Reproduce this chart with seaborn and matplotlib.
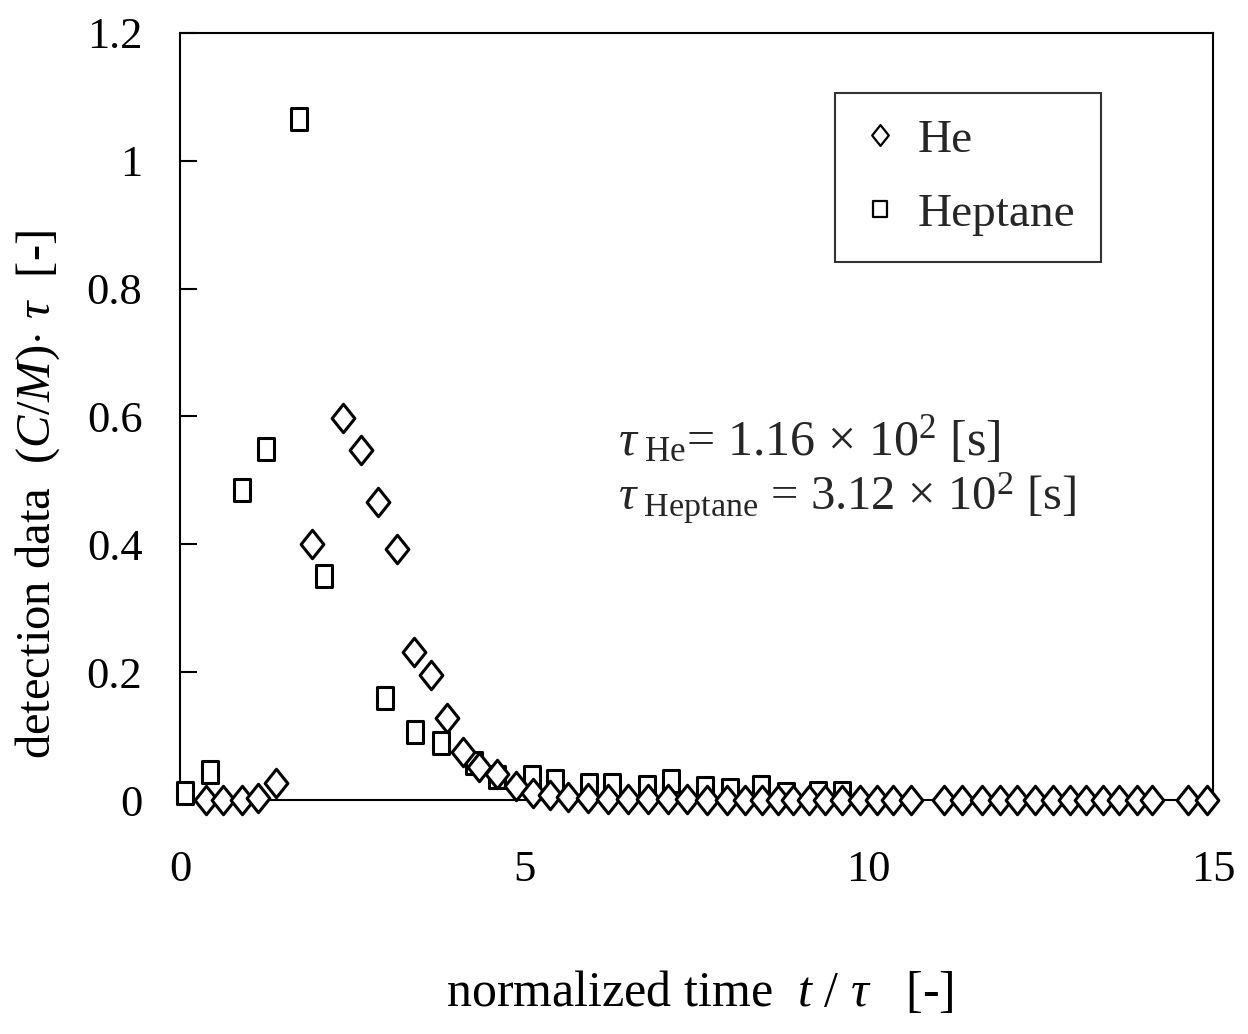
import numpy as np
import pandas as pd
import matplotlib
matplotlib.use("Agg")
import matplotlib.pyplot as plt
from matplotlib.path import Path
from matplotlib.lines import Line2D
import seaborn as sns

# ---------------- data ----------------
he_x = [0.38, 0.62, 0.90, 1.13, 1.39, 1.92, 2.37, 2.63, 2.87, 3.15, 3.40, 3.64,
        3.88, 4.11, 4.34, 4.60, 4.88, 5.12, 5.37, 5.63, 5.92, 6.21, 6.50, 6.79,
        7.08, 7.36, 7.65, 7.94, 8.20, 8.45, 8.68, 8.90, 9.13, 9.36, 9.61, 9.87,
        10.12, 10.36, 10.62, 11.10, 11.36, 11.64, 11.90, 12.15, 12.41, 12.67,
        12.92, 13.15, 13.40, 13.64, 13.89, 14.12, 14.64, 14.91]
he_y = [0.0, 0.0, 0.0, 0.003, 0.027, 0.400, 0.597, 0.547, 0.466, 0.392, 0.231,
        0.196, 0.128, 0.075, 0.052, 0.040, 0.022, 0.011, 0.008, 0.005, 0.003,
        0.002, 0.002, 0.001, 0.001, 0.001, 0.0, 0.0, 0.0, 0.0, 0.0, 0.0, 0.0,
        0.0, 0.0, 0.0, 0.0, 0.0, 0.0, 0.0, 0.0, 0.0, 0.0, 0.0, 0.0, 0.0, 0.0,
        0.0, 0.0, 0.0, 0.0, 0.0, 0.0, 0.0]
hep_x = [0.07, 0.43, 0.90, 1.25, 1.73, 2.09, 2.97, 3.41, 3.79, 4.27, 4.60, 5.11,
         5.44, 5.94, 6.28, 6.78, 7.13, 7.62, 7.98, 8.43, 8.80, 9.27, 9.62]
hep_y = [0.011, 0.044, 0.485, 0.549, 1.065, 0.350, 0.160, 0.107, 0.089, 0.058,
         0.036, 0.036, 0.030, 0.024, 0.024, 0.020, 0.030, 0.019, 0.016, 0.020,
         0.009, 0.011, 0.011]
x_ticks = [0, 5, 10, 15]
y_ticks = [0, 0.2, 0.4, 0.6, 0.8, 1.0, 1.2]
y_tick_labels = ["0", "0.2", "0.4", "0.6", "0.8", "1", "1.2"]
series_labels = ["He", "Heptane"]

he_df = pd.DataFrame({"t": he_x, "c": he_y})
hep_df = pd.DataFrame({"t": hep_x, "c": hep_y})

# ---------------- style ----------------
sns.set_theme(style="ticks")
plt.rcParams["font.family"] = ["Liberation Serif", "DejaVu Serif"]
plt.rcParams["mathtext.fontset"] = "custom"
plt.rcParams["mathtext.rm"] = "Liberation Serif"
plt.rcParams["mathtext.it"] = "Liberation Serif:italic"
plt.rcParams["mathtext.bf"] = "Liberation Serif:bold"

diamond = Path([(0, 1), (0.8, 0), (0, -1), (-0.8, 0), (0, 1)],
               [Path.MOVETO, Path.LINETO, Path.LINETO, Path.LINETO, Path.CLOSEPOLY])
square = Path([(-0.78, -1), (0.78, -1), (0.78, 1), (-0.78, 1), (-0.78, -1)],
              [Path.MOVETO, Path.LINETO, Path.LINETO, Path.LINETO, Path.CLOSEPOLY])

fig = plt.figure(figsize=(12.48, 10.34), dpi=100)
ax = fig.add_axes([180 / 1248, 1 - 800 / 1034, (1213 - 180) / 1248, (800 - 33) / 1034])

sns.scatterplot(data=hep_df, x="t", y="c", ax=ax, marker=square, s=15.5 ** 2,
                facecolor="white", edgecolor="black", linewidth=2.2,
                clip_on=False, zorder=3)
sns.scatterplot(data=he_df, x="t", y="c", ax=ax, marker=diamond, s=20.5 ** 2,
                facecolor="white", edgecolor="black", linewidth=2.2,
                clip_on=False, zorder=4)

ax.set_xlim(0, 15)
ax.set_ylim(0, 1.2)
ax.set_xticks(x_ticks)
ax.set_yticks(y_ticks)
ax.set_yticklabels(y_tick_labels)
for sp in ax.spines.values():
    sp.set_visible(True)
    sp.set_linewidth(1.5)
    sp.set_color("black")
ax.tick_params(axis="y", direction="in", length=12, width=1.5, pad=27,
               labelsize=32, colors="black")
ax.tick_params(axis="x", length=0, pad=36, labelsize=32, colors="black")

ax.set_xlabel(r"normalized time  $t$ / $\tau$   [-]", fontsize=36, color="black")
ax.xaxis.set_label_coords(0.503, -0.222)
ax.set_ylabel(r"detection data  ($C/M$)$\cdot$ $\tau$  [-]", fontsize=35, color="black")
ax.yaxis.set_label_coords(-0.114, 0.398)

ax.text(0.424, 0.469, r"$\tau$$_{\ \mathrm{He}}$= 1.16 × 10$^{2}$ [s]",
        transform=ax.transAxes, fontsize=36, va="center", ha="left")
ax.text(0.424, 0.393, r"$\tau$$_{\ \mathrm{Heptane}}$ = 3.12 × 10$^{2}$ [s]",
        transform=ax.transAxes, fontsize=35, va="center", ha="left")

handles = [
    Line2D([], [], linestyle="none", marker=diamond, markersize=15,
           markerfacecolor="white", markeredgecolor="black", markeredgewidth=1.6),
    Line2D([], [], linestyle="none", marker=square, markersize=12,
           markerfacecolor="white", markeredgecolor="black", markeredgewidth=1.6),
]
leg = ax.legend(handles, series_labels, loc="upper left",
                bbox_to_anchor=(0.634, 0.922), fontsize=34, frameon=True,
                fancybox=False, edgecolor="black", handlelength=0.8,
                handletextpad=0.4, labelspacing=0.65, borderpad=0.55,
                borderaxespad=0.0)
leg.get_frame().set_linewidth(1.5)

fig.savefig("out.png", dpi=100, facecolor="white")
